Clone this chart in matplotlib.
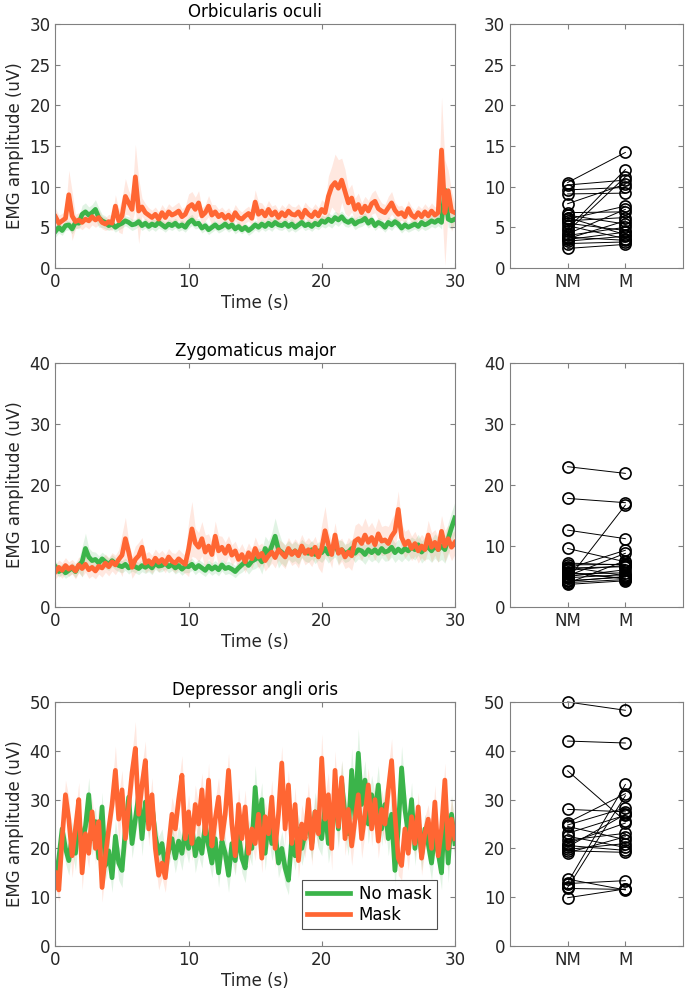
import matplotlib
matplotlib.use('Agg')
import matplotlib.pyplot as plt
import numpy as np

# time axis: samples every 0.25 s, 0..30 s
t = np.arange(0, 30.001, 0.25)

# Orbicularis oculi
oo_mask = [6.3, 5.5, 5.8, 6.1, 9.0, 6.4, 5.7, 5.9, 5.6, 6.0, 5.8, 6.3, 5.9, 6.2, 5.6, 5.4,
           5.7, 5.5, 7.6, 5.8, 6.4, 8.8, 8.0, 7.2, 11.2, 7.0, 7.5, 6.8, 6.5, 6.2, 6.6, 6.0,
           6.8, 6.2, 6.9, 6.5, 6.7, 7.0, 6.3, 6.6, 7.5, 7.8, 7.2, 8.0, 6.4, 6.8, 7.6, 6.5,
           6.9, 6.3, 6.6, 6.1, 6.5, 5.9, 6.8, 6.2, 6.0, 6.4, 6.7, 6.1, 8.1, 6.6, 7.0, 6.4,
           7.2, 6.5, 6.9, 6.2, 6.8, 6.4, 7.0, 6.6, 6.5, 6.9, 6.2, 7.1, 6.6, 6.3, 6.9, 6.4,
           7.2, 6.8, 8.8, 10.0, 10.5, 9.8, 10.8, 9.4, 8.0, 8.6, 7.2, 7.8, 6.8, 7.6, 7.0, 7.9,
           8.2, 7.3, 7.0, 6.8, 7.4, 8.0, 7.1, 6.6, 6.8, 6.3, 7.3, 6.5, 6.2, 6.8, 6.3, 6.9,
           6.4, 7.0, 6.5, 6.8, 14.5, 6.8, 9.5, 7.0, 6.8]
oo_nomask = [4.5, 5.0, 4.6, 5.2, 5.3, 4.8, 5.6, 5.5, 6.6, 6.9, 6.5, 6.8, 7.2, 6.2, 5.8, 5.6,
             5.2, 5.4, 5.0, 5.3, 5.5, 5.8, 5.6, 5.3, 5.4, 5.7, 5.2, 5.5, 5.1, 5.4, 5.2, 5.6,
             5.3, 5.0, 5.4, 5.2, 5.5, 5.1, 5.3, 5.0, 5.6, 5.9, 5.4, 5.5, 4.9, 5.2, 4.7, 5.0,
             5.3, 4.9, 5.1, 5.4, 5.0, 5.3, 4.8, 5.1, 4.7, 5.0, 4.6, 4.9, 5.3, 5.0, 5.4, 5.1,
             5.5, 5.2, 5.6, 5.3, 5.2, 5.5, 5.1, 5.4, 5.0, 5.3, 5.6, 5.2, 5.4, 5.1, 5.5, 5.3,
             5.8, 5.6, 6.0, 5.7, 6.2, 5.9, 6.3, 5.8, 5.6, 5.9, 5.4, 5.7, 5.8, 6.1, 5.5, 5.9,
             5.2, 5.6, 5.4, 5.0, 5.6, 5.3, 5.7, 5.4, 4.9, 5.3, 5.0, 5.2, 5.4, 5.1, 5.6, 5.3,
             5.5, 5.8, 5.6, 5.9, 5.6, 9.6, 6.0, 5.8, 6.0]
# spread of the shaded band, every 0.5 s
oo_mask_sem = [1.0, 0.9, 3.0, 0.9, 0.9, 1.0, 0.9, 0.8, 0.9, 1.4, 2.2, 1.5, 4.0, 1.1, 0.9, 0.9,
               1.0, 1.0, 1.1, 1.0, 1.6, 1.5, 1.0, 1.3, 0.9, 0.9, 0.9, 1.0, 0.9, 0.9, 1.5, 1.0,
               1.1, 0.9, 1.0, 1.0, 1.0, 1.0, 1.0, 1.0, 1.2, 2.5, 3.5, 2.7, 1.7, 1.4, 1.2, 1.3,
               1.4, 1.0, 1.4, 1.0, 0.9, 1.0, 0.9, 1.0, 1.0, 1.0, 6.5, 2.5, 1.0]
oo_nomask_sem = [0.7, 0.6, 0.6, 0.7, 1.1, 1.0, 1.2, 0.8, 0.6, 0.6, 0.6, 0.7, 0.6, 0.6, 0.6, 0.7,
                 0.6, 0.6, 0.6, 0.6, 0.7, 0.6, 0.6, 0.6, 0.6, 0.6, 0.6, 0.6, 0.5, 0.6, 0.6, 0.6,
                 0.7, 0.6, 0.6, 0.7, 0.6, 0.6, 0.6, 0.6, 0.7, 0.8, 0.8, 0.7, 0.6, 0.7, 0.7, 0.6,
                 0.6, 0.6, 0.7, 0.6, 0.6, 0.6, 0.6, 0.7, 0.7, 0.7, 0.8, 1.0, 0.8]

# Zygomaticus major
zm_mask = [5.8, 6.5, 6.0, 6.8, 6.2, 6.6, 5.9, 6.9, 6.3, 7.0, 6.1, 6.5, 5.9, 6.7, 6.4, 7.2,
           6.6, 7.4, 6.9, 7.8, 8.5, 11.2, 9.0, 6.5, 7.8, 8.4, 9.8, 7.2, 7.6, 7.0, 8.0, 7.3,
           7.8, 7.1, 8.2, 7.5, 7.2, 7.9, 7.4, 7.0, 9.5, 12.8, 10.5, 9.8, 11.2, 9.0, 10.0, 8.6,
           11.6, 9.2, 9.8, 8.8, 10.0, 8.5, 9.2, 7.8, 8.6, 7.4, 8.9, 7.9, 9.6, 8.2, 8.8, 7.6,
           8.4, 9.0, 8.1, 9.4, 8.8, 8.2, 9.6, 8.6, 9.2, 8.4, 10.0, 8.8, 9.4, 8.6, 9.8, 8.2,
           9.6, 12.5, 10.2, 8.6, 11.8, 8.8, 9.4, 8.2, 9.0, 8.4, 10.8, 11.2, 10.4, 11.8, 10.6, 11.4,
           10.2, 12.0, 10.8, 11.0, 10.4, 11.6, 12.4, 16.0, 11.4, 10.2, 10.8, 9.6, 10.4, 9.2, 10.0, 9.4,
           11.8, 9.8, 10.6, 9.4, 12.4, 10.0, 11.2, 9.8, 10.6]
zm_nomask = [6.6, 5.8, 6.2, 5.6, 6.0, 6.4, 5.8, 6.8, 7.4, 9.6, 8.2, 7.6, 7.8, 7.2, 7.9, 7.4,
             7.0, 7.6, 7.1, 6.8, 6.6, 7.0, 6.4, 6.9, 6.6, 6.3, 6.8, 6.5, 6.9, 6.4, 7.2, 6.7,
             6.8, 7.2, 6.6, 7.0, 6.4, 6.8, 6.2, 6.7, 6.6, 7.0, 6.3, 6.8, 6.4, 6.0, 6.7, 6.2,
             6.6, 6.1, 6.9, 6.3, 6.5, 6.2, 5.8, 6.4, 6.9, 7.4, 6.8, 7.5, 7.8, 8.2, 7.4, 9.6,
             8.6, 10.0, 11.6, 9.4, 9.0, 8.4, 9.4, 8.8, 9.2, 8.6, 9.6, 9.0, 8.8, 9.4, 8.6, 9.2,
             8.9, 9.6, 8.7, 9.3, 10.2, 9.0, 9.4, 8.8, 9.0, 9.6, 8.8, 9.4, 9.2, 8.6, 9.4, 8.9,
             9.4, 8.8, 9.6, 9.0, 9.2, 9.8, 8.9, 9.5, 9.0, 9.6, 9.2, 9.8, 9.4, 10.2, 9.0, 9.6,
             9.8, 9.2, 10.0, 9.4, 10.0, 9.4, 11.2, 13.0, 14.6]
zm_mask_sem = [1.2, 1.3, 1.2, 1.3, 1.3, 1.4, 1.3, 1.5, 1.5, 1.6, 3.5, 1.8, 2.2, 1.6, 1.5, 1.5,
               1.5, 1.4, 1.6, 1.5, 4.5, 2.4, 2.8, 2.0, 2.5, 1.8, 1.7, 1.6, 1.8, 1.6, 1.9, 1.7,
               1.8, 1.7, 1.9, 1.8, 2.0, 1.9, 2.0, 1.8, 4.0, 2.2, 2.0, 1.9, 2.4, 2.6, 2.8, 2.5,
               2.6, 2.4, 2.8, 3.0, 2.2, 2.0, 2.0, 1.9, 2.4, 2.1, 2.6, 2.2, 2.0]
zm_nomask_sem = [0.9, 0.9, 0.9, 1.0, 2.5, 1.5, 1.2, 1.1, 1.0, 1.0, 1.0, 1.0, 1.0, 1.0, 1.1, 1.0,
                 1.0, 1.0, 1.0, 1.0, 1.0, 1.0, 1.0, 1.0, 1.0, 1.0, 1.0, 1.0, 1.2, 1.4, 1.5, 2.0,
                 2.2, 3.0, 1.8, 1.5, 1.6, 1.5, 1.5, 1.5, 1.6, 1.5, 2.0, 1.5, 1.5, 1.5, 1.6, 1.5,
                 1.6, 1.5, 1.6, 1.6, 1.6, 1.7, 1.7, 1.8, 1.9, 2.0, 2.2, 2.6, 2.6]

# Depressor angli oris
dao_mask = [15.0, 11.5, 22.0, 31.0, 26.0, 18.5, 24.0, 30.0, 15.0, 23.0, 19.0, 27.5, 20.0, 25.5, 12.0, 18.5,
            24.0, 29.0, 36.0, 26.0, 32.0, 22.0, 28.5, 35.5, 40.5, 27.0, 33.0, 38.0, 24.0, 31.0, 20.0, 14.5,
            17.0, 14.0, 20.5, 27.0, 24.0, 30.0, 35.0, 22.0, 27.5, 21.0, 29.0, 25.0, 32.0, 23.0, 34.0, 20.5,
            26.0, 30.5, 22.0, 27.0, 36.0, 25.0, 18.5, 29.0, 22.0, 28.5, 19.0, 24.0, 21.0, 27.0, 18.0, 26.5,
            23.0, 30.5, 20.0, 27.0, 37.5, 24.0, 33.0, 21.0, 29.0, 17.5, 25.0, 22.0, 30.0, 20.0, 27.5, 23.0,
            38.5, 26.0, 31.0, 20.0, 36.0, 24.5, 34.5, 22.0, 28.0, 20.5, 26.0, 31.0, 22.0, 27.0, 33.0, 24.0,
            30.0, 21.5, 28.0, 25.0, 32.0, 38.0, 27.0, 18.0, 16.5, 24.0, 19.0, 26.5, 21.0, 28.5, 18.0, 23.0,
            26.0, 20.0, 29.5, 18.5, 24.0, 34.0, 20.0, 26.0, 22.0]
dao_nomask = [13.5, 18.0, 24.0, 20.0, 17.5, 22.5, 19.0, 26.0, 21.0, 24.5, 31.0, 22.0, 25.5, 18.0, 28.5, 16.5,
              19.5, 14.0, 22.5, 17.0, 15.5, 24.0, 30.5, 21.0, 26.0, 31.0, 22.0, 29.5, 25.0, 29.0, 22.5, 19.0,
              21.0, 16.5, 19.5, 22.0, 18.0, 21.5, 19.0, 23.5, 20.0, 24.5, 18.5, 22.0, 19.0, 25.0, 20.5, 17.0,
              22.0, 15.0, 21.5, 19.0, 14.5, 21.0, 17.5, 23.0, 18.0, 16.0, 22.5, 20.0, 32.5, 24.0, 30.0, 19.0,
              26.0, 21.0, 23.5, 17.0, 20.0, 16.0, 13.5, 22.0, 18.5, 24.0, 20.0, 23.0, 26.0, 21.0, 27.5, 24.0,
              22.0, 28.5, 21.0, 25.0, 30.5, 24.0, 33.5, 27.0, 23.0, 36.0, 26.0, 39.5, 29.0, 34.0, 25.0, 31.0,
              27.0, 33.0, 24.0, 29.0, 22.0, 27.0, 15.5, 24.0, 36.5, 28.0, 23.0, 30.0, 20.0, 26.0, 18.5, 24.0,
              21.0, 17.0, 23.0, 19.0, 15.0, 28.5, 17.0, 27.0, 21.0]
dao_mask_sem = [2.5, 3.0, 4.5, 3.5, 3.5, 3.0, 3.2, 3.0, 3.5, 5.0, 4.0, 4.0, 5.5, 4.0, 3.5, 3.0,
                3.0, 3.5, 3.5, 4.0, 3.5, 4.0, 3.5, 3.5, 4.0, 4.5, 3.5, 3.5, 3.5, 3.0, 3.5, 3.0,
                3.5, 4.0, 3.5, 3.0, 3.5, 4.0, 3.5, 3.0, 5.0, 4.5, 4.0, 3.5, 4.0, 3.5, 4.0, 3.5,
                3.5, 4.0, 4.5, 3.5, 3.0, 3.5, 3.0, 3.5, 3.0, 3.5, 3.5, 4.5, 3.0]
dao_nomask_sem = [2.5, 3.0, 3.0, 3.5, 3.0, 3.5, 3.0, 3.0, 3.0, 3.5, 3.5, 3.0, 3.5, 3.5, 3.0, 3.5,
                  3.0, 3.0, 3.0, 3.5, 3.0, 3.5, 3.0, 3.0, 3.0, 3.0, 3.5, 3.0, 3.0, 3.5, 4.5, 3.5,
                  3.5, 3.0, 3.5, 3.0, 3.0, 3.5, 3.5, 4.0, 3.5, 4.0, 4.0, 4.5, 4.5, 5.0, 4.0, 4.0,
                  4.0, 3.5, 3.5, 3.5, 4.5, 3.5, 3.5, 3.0, 3.5, 3.0, 3.5, 4.0, 3.5]

# per-participant averages, no mask (NM) vs mask (M)
oo_nm = [10.5, 10.2, 9.6, 9.1, 7.9, 6.8, 6.5, 6.2, 6.0, 5.8, 5.5, 5.2, 4.8, 4.5, 4.2, 4.0, 3.8, 3.6, 3.5, 3.3, 3.0, 2.4]
oo_m = [14.2, 10.8, 9.9, 9.2, 10.3, 6.9, 5.4, 4.1, 7.6, 6.2, 4.6, 3.6, 12.1, 11.2, 7.2, 5.0, 3.4, 5.8, 4.4, 3.9, 3.2, 2.9]
zm_nm = [23.0, 17.8, 12.6, 9.6, 7.2, 6.9, 6.6, 6.4, 6.3, 6.0, 5.7, 5.6, 5.4, 5.1, 5.0, 4.8, 4.5, 4.3, 4.2, 4.0, 3.9, 3.7]
zm_m = [21.9, 17.1, 11.2, 7.4, 6.9, 7.0, 5.1, 6.6, 9.3, 6.8, 4.6, 4.7, 5.6, 8.8, 6.1, 5.3, 16.7, 4.9, 5.0, 4.5, 7.6, 4.3]
dao_nm = [50.0, 42.0, 35.9, 28.0, 25.3, 24.8, 24.5, 23.1, 22.5, 21.7, 21.0, 20.6, 20.3, 19.8, 19.5, 19.1, 13.7, 13.0, 12.8, 12.0, 11.8, 9.9]
dao_m = [48.3, 41.6, 25.6, 27.5, 31.2, 28.3, 21.8, 26.8, 20.2, 23.1, 25.2, 19.6, 27.0, 21.0, 19.2, 22.4, 11.5, 33.1, 13.4, 30.8, 11.6, 11.7]

titles = ['Orbicularis oculi', 'Zygomaticus major', 'Depressor angli oris']
ylims = [30, 40, 50]
ysteps = [5, 10, 10]

green = '#3bb44a'
orange = '#ff6633'
axcol = '#808080'
txtcol = '#262626'

plt.rcParams['font.family'] = ['DejaVu Sans']
plt.rcParams['font.size'] = 12

fig = plt.figure(figsize=(6.85, 10.01), dpi=100)

rows = [
    (oo_nomask, oo_nomask_sem, oo_mask, oo_mask_sem, oo_nm, oo_m),
    (zm_nomask, zm_nomask_sem, zm_mask, zm_mask_sem, zm_nm, zm_m),
    (dao_nomask, dao_nomask_sem, dao_mask, dao_mask_sem, dao_nm, dao_m),
]
bottoms = [0.7323, 0.3936, 0.0549]


def style(a):
    for s in a.spines.values():
        s.set_color(axcol)
        s.set_linewidth(0.8)
    a.tick_params(direction='in', top=True, right=True, color=axcol,
                  labelcolor=txtcol, labelsize=12, length=3.5, width=0.8)


for i, (nm_y, nm_s, m_y, m_s, pnm, pm) in enumerate(rows):
    ax = fig.add_axes([0.081, bottoms[i], 0.583, 0.2438])
    nm_y = np.array(nm_y)
    m_y = np.array(m_y)
    nm_s = np.repeat(nm_s, 2)[:len(t)]
    m_s = np.repeat(m_s, 2)[:len(t)]

    ax.fill_between(t, nm_y - nm_s, nm_y + nm_s, color=green, alpha=0.15, lw=0)
    ax.fill_between(t, m_y - m_s, m_y + m_s, color=orange, alpha=0.15, lw=0)
    ax.plot(t, nm_y, c=green, lw=3.4, label='No mask')
    ax.plot(t, m_y, c=orange, lw=3.4, label='Mask')

    ax.set_xlim(0, 30)
    ax.set_ylim(0, ylims[i])
    ax.set_xticks([0, 10, 20, 30])
    ax.set_yticks(np.arange(0, ylims[i] + 1, ysteps[i]))
    ax.set_xlabel('Time (s)', color=txtcol, labelpad=2)
    ax.set_ylabel('EMG amplitude (uV)', color=txtcol, labelpad=4)
    ax.set_title(titles[i], color='black', fontsize=12, pad=5)
    style(ax)

    if i == 2:
        leg = ax.legend(loc='lower right', bbox_to_anchor=(0.975, 0.035), fontsize=12,
                        fancybox=False, handlelength=2.6, borderpad=0.3,
                        labelspacing=0.2, handletextpad=0.5)
        leg.get_frame().set_edgecolor(txtcol)
        leg.get_frame().set_linewidth(0.8)

    ax2 = fig.add_axes([0.7445, bottoms[i], 0.2526, 0.2438])
    for a, b in zip(pnm, pm):
        ax2.plot([1, 2], [a, b], c='black', lw=0.7)
    ax2.plot(np.ones(len(pnm)), pnm, 'o', mfc='none', mec='black', ms=8, mew=1.2)
    ax2.plot(np.full(len(pm), 2), pm, 'o', mfc='none', mec='black', ms=8, mew=1.2)
    ax2.set_xlim(0, 3)
    ax2.set_ylim(0, ylims[i])
    ax2.set_xticks([1, 2])
    ax2.set_xticklabels(['NM', 'M'])
    ax2.set_yticks(np.arange(0, ylims[i] + 1, ysteps[i]))
    style(ax2)
    for c in ax2.lines:
        c.set_clip_on(False)

fig.savefig('out.png', dpi=100)
